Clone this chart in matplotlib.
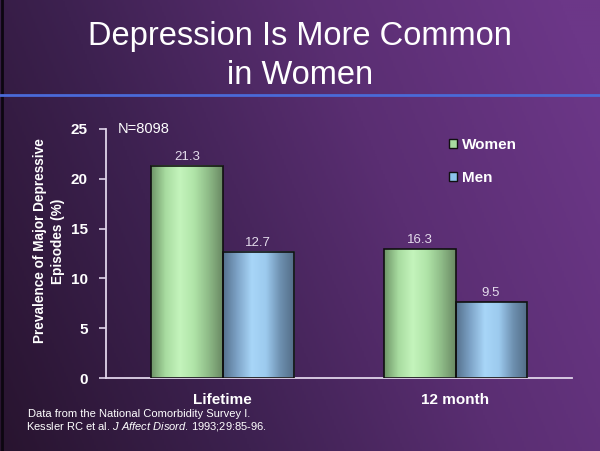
import numpy as np
import matplotlib
matplotlib.use("Agg")
import matplotlib.pyplot as plt
from matplotlib.colors import LinearSegmentedColormap
from matplotlib.patches import Patch

plt.rcParams["font.family"] = ["Liberation Sans", "DejaVu Sans"]
plt.rcParams["mathtext.fontset"] = "custom"
plt.rcParams["mathtext.rm"] = "Liberation Sans"
plt.rcParams["mathtext.it"] = "Liberation Sans:italic"

# data (bar heights as drawn, labels as printed)
categories = ["Lifetime", "12 month"]
women_heights = [21.3, 12.95]
men_heights = [12.7, 7.6]
women_labels = ["21.3", "16.3"]
men_labels = ["12.7", "9.5"]
y_ticks = [0, 5, 10, 15, 20, 25]

fig = plt.figure(figsize=(6.0, 4.51), dpi=100)

# purple slide background
bg = fig.add_axes([0, 0, 1, 1], zorder=-10)
xx, yy = np.meshgrid(np.linspace(0, 1, 300), np.linspace(0, 1, 230))
t = np.clip(0.8 * xx + 0.25 * yy, 0, 1)
bg_cmap = LinearSegmentedColormap.from_list("bg", ["#28142f", "#3d2150", "#5a2e72", "#6c3788"])
bg.imshow(t, cmap=bg_cmap, extent=[0, 1, 0, 1], origin="lower", aspect="auto")
bg.plot([0.0035, 0.0035], [0, 1], color="#0c0610", lw=2)
bg.plot([0, 1], [1 - 95 / 451, 1 - 95 / 451], color="#4a6ad8", lw=2)
bg.set_xlim(0, 1)
bg.set_ylim(0, 1)
bg.axis("off")

fig.text(0.5, 1 - 37 / 451, "Depression Is More Common", ha="center", va="center",
         color="white", fontsize=23.5)
fig.text(0.5, 1 - 76 / 451, "in Women", ha="center", va="center",
         color="white", fontsize=23.5)

ax = fig.add_axes([106 / 600, 73 / 451, 466 / 600, 249 / 451])
ax.set_facecolor("none")

women_cmap = LinearSegmentedColormap.from_list(
    "w", ["#6f9668", "#a8dca0", "#c4f4bc", "#b0e4a8", "#8fbc88", "#6a8a64"])
men_cmap = LinearSegmentedColormap.from_list(
    "m", ["#56728e", "#7ea4c8", "#a8d6f8", "#9ccaee", "#6e90b0", "#526c86"])

x = np.arange(len(categories))
width = 0.305
grad = np.linspace(0, 1, 100).reshape(1, -1)

for xs, heights, labels, cmap in [(x - width / 2, women_heights, women_labels, women_cmap),
                                  (x + width / 2, men_heights, men_labels, men_cmap)]:
    bars = ax.bar(xs, heights, width, facecolor="none", edgecolor="#101010", lw=1.2, zorder=3)
    for b, lab in zip(bars, labels):
        x0 = b.get_x()
        h = b.get_height()
        ax.imshow(grad, cmap=cmap, extent=[x0, x0 + width, 0, h], aspect="auto", zorder=2)
        ax.text(x0 + width / 2, h + 0.3, lab, ha="center", va="bottom",
                color="#e4dcec", fontsize=9.5)

ax.set_xlim(-0.5, 1.5)
ax.set_ylim(0, 25)
ax.set_yticks(y_ticks)
ax.set_xticks(x)
ax.set_xticklabels(categories)
for sp in ["top", "right"]:
    ax.spines[sp].set_visible(False)
for sp in ["left", "bottom"]:
    ax.spines[sp].set_color("#e0d4ea")
    ax.spines[sp].set_linewidth(1.3)
ax.tick_params(axis="y", colors="#e0d4ea", labelcolor="white", labelsize=11,
               length=5, width=1.2, pad=8)
ax.tick_params(axis="x", length=0, labelcolor="white", labelsize=11, pad=11)
for lbl in ax.get_yticklabels() + ax.get_xticklabels():
    lbl.set_fontweight("bold")

ax.set_ylabel("Prevalence of Major Depressive\nEpisodes (%)", color="white",
              fontsize=9.8, fontweight="bold", linespacing=1.35)
ax.yaxis.set_label_coords(-0.088, 0.55)

ax.text(0.025, 1.0, "N=8098", transform=ax.transAxes, color="white",
        fontsize=10.5, va="center", ha="left")

handles = [Patch(facecolor="#a8dca0", edgecolor="#101010", label="Women"),
           Patch(facecolor="#8cc4ec", edgecolor="#101010", label="Men")]
leg = ax.legend(handles=handles, loc="upper left", bbox_to_anchor=(0.735, 0.965),
                frameon=False, handlelength=0.55, handleheight=0.55, handletextpad=0.35,
                labelspacing=1.25, borderpad=0, borderaxespad=0,
                prop={"size": 11, "weight": "bold"})
for txt in leg.get_texts():
    txt.set_color("white")

fig.text(28 / 600, 1 - 414 / 451, "Data from the National Comorbidity Survey I.",
         color="white", fontsize=8, va="center")
fig.text(26 / 600, 1 - 426.5 / 451,
         r"Kessler RC et al. $\mathit{J\ Affect\ Disord}$. 1993;29:85-96.",
         color="white", fontsize=8, va="center")

fig.savefig("out.png", dpi=100, facecolor=fig.get_facecolor())
